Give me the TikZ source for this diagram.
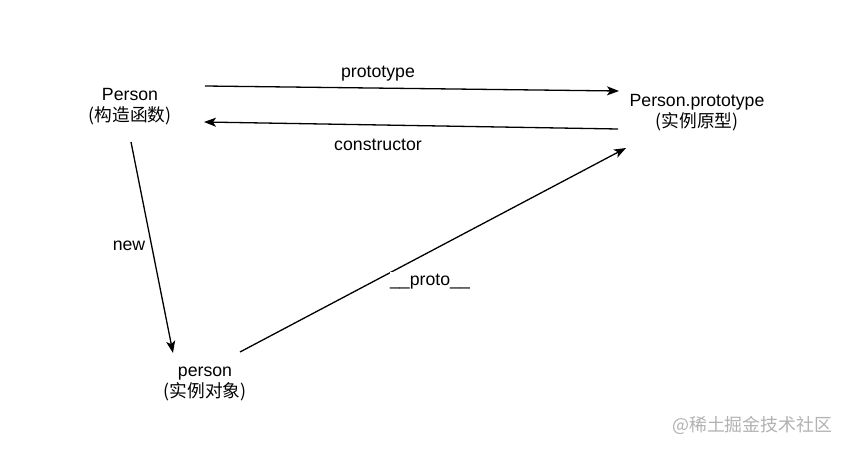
\documentclass[tikz,border=0pt]{standalone}
\usepackage{fontspec}
\setmainfont{Liberation Sans}
\newfontfamily\cjk{Noto Sans CJK SC}
\usetikzlibrary{arrows.meta}
\begin{document}
\begin{tikzpicture}[x=1pt,y=-1pt,
  lbl/.style={font=\fontsize{17.7}{21}\selectfont, inner sep=1pt, align=center},
  conn/.style={line width=1.3pt, -{Stealth[length=12pt,width=9pt,inset=3pt]}},
  wm/.style={font=\cjk\fontsize{17.9}{20}\selectfont, text=black!30, inner sep=0pt}]
\useasboundingbox (0,0) rectangle (847,449);
\fill[white] (0,0) rectangle (847,449);
% text nodes
\node[lbl] (ctor) at (130,107) {Person\\{\cjk(构造函数)}};
\node[lbl] (proto) at (697,113) {Person.prototype\\{\cjk(实例原型)}};
\node[lbl] (inst) at (205,384) {person\\{\cjk(实例对象)}};
% connector end points
\coordinate (a1) at (205,86);
\coordinate (a2) at (619,91);
\coordinate (b1) at (618,129);
\coordinate (b2) at (204,122);
\coordinate (c1) at (131,142);
\coordinate (c2) at (173,353);
\coordinate (d1) at (240,352);
\coordinate (d2) at (626,148);
\draw[conn] (a1) -- (a2);
\draw[conn] (b1) -- (b2);
\draw[conn] (c1) -- (c2);
\draw[conn] (d1) -- (d2);
% edge labels
\node[lbl] (lp) at (378,74) {prototype};
\node[lbl] (lc) at (378,145) {constructor};
\node[lbl] (ln) at (129,246) {new};
\node[lbl, fill=white, inner xsep=0pt, inner ysep=2.5pt] (lq) at (430,282) {\_\_proto\_\_};
% watermark
\node[wm, anchor=west] (wmk) at (672,425) {@稀土掘金技术社区};
\end{tikzpicture}
\end{document}
